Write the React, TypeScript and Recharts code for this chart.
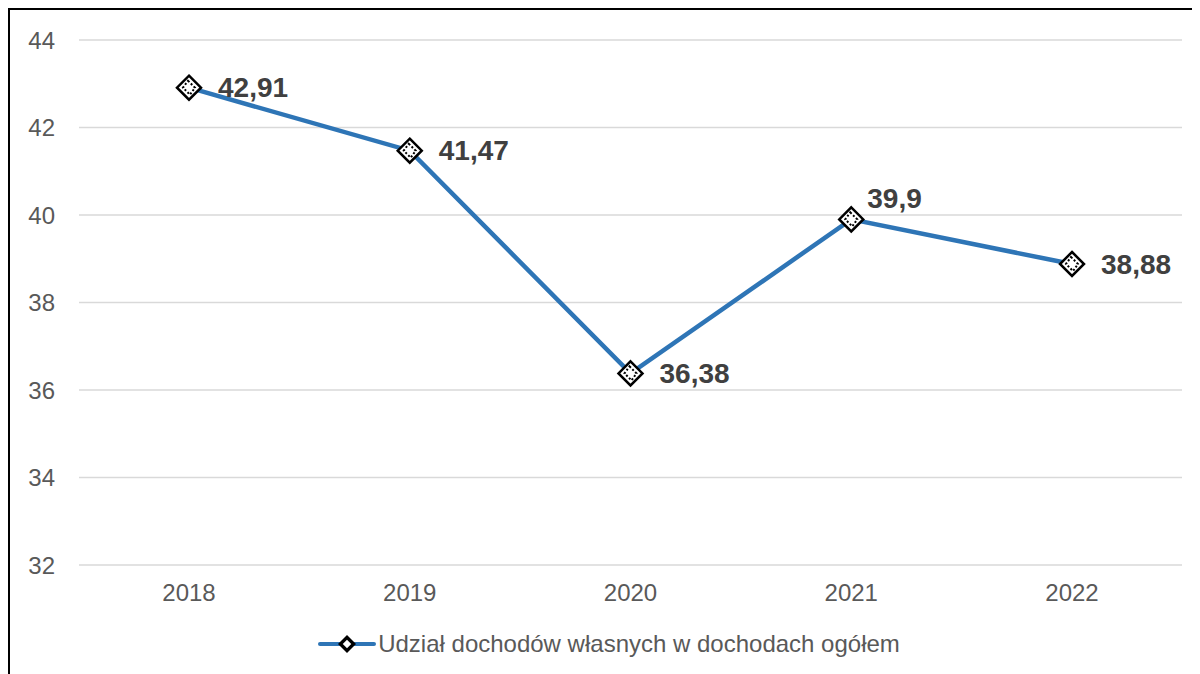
import { LineChart, Line, XAxis, YAxis, CartesianGrid, Legend, LabelList } from "recharts";

const years = ["2018", "2019", "2020", "2021", "2022"];
const udzial = [42.91, 41.47, 36.38, 39.9, 38.88];
const yTicks = [32, 34, 36, 38, 40, 42, 44];
const seriesName = "Udział dochodów własnych w dochodach ogółem";

const dane = years.map((rok, i) => ({ rok, wartosc: udzial[i] }));

const FONT = '"Liberation Sans", Arial, sans-serif';
const BLUE = "#2e75b6";

const Marker = (props: any) => {
  const { cx, cy } = props;
  if (cx == null || cy == null) return null;
  const r = 12;
  return (
    <g>
      <polygon
        points={`${cx},${cy - r} ${cx + r},${cy} ${cx},${cy + r} ${cx - r},${cy}`}
        fill="#fff"
        stroke="#000"
        strokeWidth={2.5}
      />
      <polygon
        points={`${cx - 1},${cy - 7} ${cx + 6},${cy} ${cx + 1},${cy + 7} ${cx - 6},${cy}`}
        fill="#fff"
        stroke="#000"
        strokeWidth={2}
        strokeDasharray="2 2"
      />
    </g>
  );
};

const Etykieta = (props: any) => {
  const { x, y, value, index } = props;
  const wyzej = index === 3;
  return (
    <text
      x={x + (wyzej ? 16 : 29)}
      y={y + (wyzej ? -21 : 0)}
      dominantBaseline="central"
      fontFamily={FONT}
      fontWeight="bold"
      fontSize={28}
      fill="#404040"
    >
      {String(value).replace(".", ",")}
    </text>
  );
};

const Legenda = () => (
  <div
    style={{
      height: 30,
      display: "flex",
      justifyContent: "center",
      alignItems: "center",
      fontFamily: FONT,
      fontSize: 24,
      color: "#595959",
      paddingLeft: 26,
    }}
  >
    <svg width={58} height={30} style={{ marginRight: 2 }}>
      <line x1={2} y1={15} x2={56} y2={15} stroke={BLUE} strokeWidth={4} strokeLinecap="round" />
      <polygon points="29,6 38,15 29,24 20,15" fill="#000" />
      <rect x={26} y={12} width={6} height={6} fill="#fff" transform="rotate(45 29 15)" />
    </svg>
    <span>{seriesName}</span>
  </div>
);

export default function App() {
  return (
    <div
      style={{
        width: 1192,
        height: 666,
        borderTop: "2px solid #000",
        borderLeft: "2px solid #000",
        boxSizing: "border-box",
        overflow: "hidden",
        background: "#fff",
      }}
    >
      <LineChart
        width={1190}
        height={664}
        data={dane}
        margin={{ top: 30, right: 18, left: 0, bottom: 15 }}
      >
        <CartesianGrid vertical={false} stroke="#d9d9d9" strokeWidth={1.5} />
        <XAxis
          dataKey="rok"
          axisLine={false}
          tickLine={false}
          tickSize={0}
          tickMargin={19}
          height={64}
          padding={{ left: 110, right: 110 }}
          tick={{ fontFamily: FONT, fontSize: 24, fill: "#595959" }}
        />
        <YAxis
          domain={[32, 44]}
          ticks={yTicks}
          axisLine={false}
          tickLine={false}
          tickSize={0}
          tickMargin={24}
          width={69}
          tick={{ fontFamily: FONT, fontSize: 24, fill: "#595959" }}
        />
        <Legend verticalAlign="bottom" content={<Legenda />} />
        <Line
          type="linear"
          dataKey="wartosc"
          name={seriesName}
          stroke={BLUE}
          strokeWidth={4.5}
          dot={<Marker />}
          activeDot={false}
          isAnimationActive={false}
        >
          <LabelList dataKey="wartosc" content={<Etykieta />} />
        </Line>
      </LineChart>
    </div>
  );
}
